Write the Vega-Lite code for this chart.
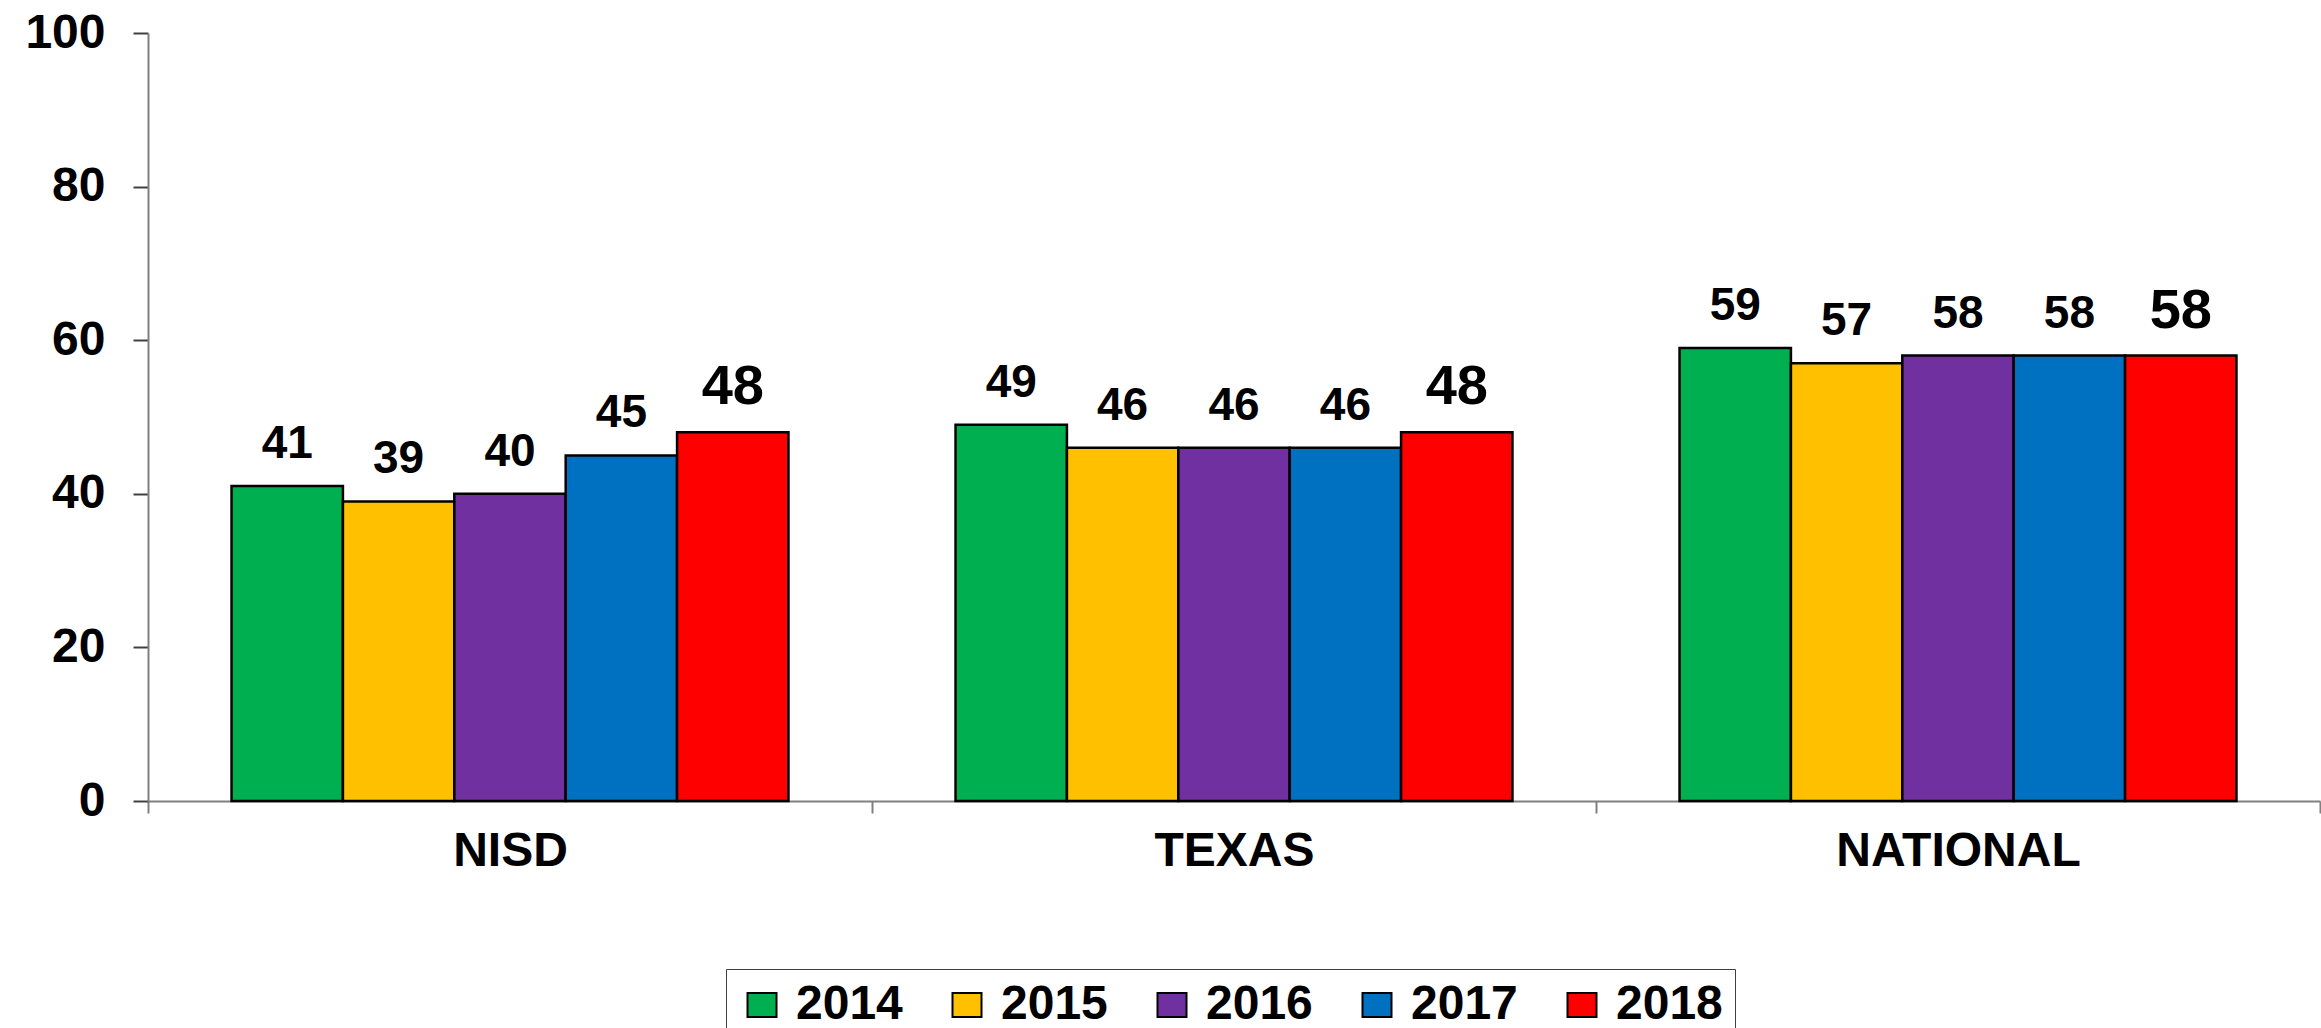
{
  "$schema": "https://vega.github.io/schema/vega-lite/v6.json",
  "width": 2172,
  "height": 768,
  "autosize": {"type": "none"},
  "padding": {"left": 148, "top": 33, "right": 1, "bottom": 227},
  "background": "white",
  "config": {
    "view": {"stroke": null},
    "font": "Liberation Sans"
  },
  "data": {
    "values": [
      {"group": "NISD", "year": "2014", "value": 41},
      {"group": "NISD", "year": "2015", "value": 39},
      {"group": "NISD", "year": "2016", "value": 40},
      {"group": "NISD", "year": "2017", "value": 45},
      {"group": "NISD", "year": "2018", "value": 48},
      {"group": "TEXAS", "year": "2014", "value": 49},
      {"group": "TEXAS", "year": "2015", "value": 46},
      {"group": "TEXAS", "year": "2016", "value": 46},
      {"group": "TEXAS", "year": "2017", "value": 46},
      {"group": "TEXAS", "year": "2018", "value": 48},
      {"group": "NATIONAL", "year": "2014", "value": 59},
      {"group": "NATIONAL", "year": "2015", "value": 57},
      {"group": "NATIONAL", "year": "2016", "value": 58},
      {"group": "NATIONAL", "year": "2017", "value": 58},
      {"group": "NATIONAL", "year": "2018", "value": 58}
    ]
  },
  "encoding": {
    "x": {
      "field": "group",
      "type": "nominal",
      "sort": ["NISD", "TEXAS", "NATIONAL"],
      "scale": {"paddingInner": 0, "paddingOuter": 0},
      "axis": {
        "title": null,
        "labelAngle": 0,
        "labelFontSize": 48,
        "labelFontWeight": "bold",
        "labelColor": "black",
        "labelPadding": 14,
        "labelLimit": 0,
        "tickBand": "extent",
        "tickSize": 12,
        "tickColor": "#808080",
        "tickWidth": 2,
        "domainColor": "#808080",
        "domainWidth": 2
      }
    },
    "xOffset": {
      "field": "year",
      "type": "nominal",
      "scale": {"paddingInner": 0, "paddingOuter": 0.75}
    },
    "y": {
      "field": "value",
      "type": "quantitative",
      "scale": {"domain": [0, 100]},
      "axis": {
        "title": null,
        "values": [0, 20, 40, 60, 80, 100],
        "grid": false,
        "labelFontSize": 48,
        "labelFontWeight": "bold",
        "labelColor": "black",
        "labelPadding": 28,
        "tickSize": 15,
        "tickColor": "#404040",
        "tickWidth": 2,
        "domainColor": "#808080",
        "domainWidth": 2
      }
    }
  },
  "layer": [
    {
      "mark": {"type": "bar", "stroke": "black", "strokeWidth": 2.5},
      "encoding": {
        "color": {
          "field": "year",
          "type": "nominal",
          "scale": {
            "domain": ["2014", "2015", "2016", "2017", "2018"],
            "range": ["#00B050", "#FFC000", "#7030A0", "#0070C0", "#FF0000"]
          },
          "legend": {
            "title": null,
            "orient": "none",
            "direction": "horizontal",
            "legendX": 578,
            "legendY": 936,
            "labelFontSize": 48,
            "labelFontWeight": "bold",
            "labelColor": "black",
            "labelOffset": 10,
            "columnPadding": 40,
            "symbolType": "M-1,-0.83H1V0.83H-1Z",
            "symbolSize": 841,
            "symbolStrokeColor": "black",
            "symbolStrokeWidth": 2,
            "strokeColor": "#404040",
            "padding": 12,
            "fillColor": "white"
          }
        }
      }
    },
    {
      "mark": {"type": "text", "baseline": "alphabetic", "fontWeight": "bold", "color": "black"},
      "encoding": {
        "text": {"field": "value", "type": "quantitative"},
        "size": {
          "condition": {"test": "datum.year == '2018'", "value": 56},
          "value": 46
        },
        "yOffset": {
          "condition": {"test": "datum.year == '2018'", "value": -19},
          "value": -28
        }
      }
    }
  ]
}
